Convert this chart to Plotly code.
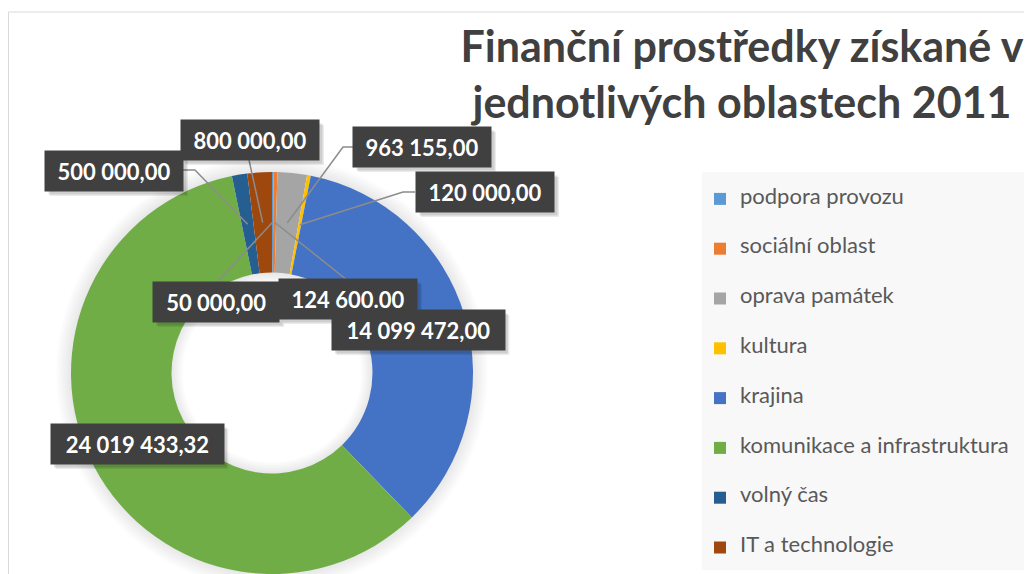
import numpy as np
import plotly.graph_objects as go

# ---------------- data ----------------
categories = ["podpora provozu", "sociální oblast", "oprava památek", "kultura",
              "krajina", "komunikace a infrastruktura", "volný čas", "IT a technologie"]
values = [50000.00, 124600.00, 963155.00, 120000.00,
          14099472.00, 24019433.32, 500000.00, 800000.00]
value_labels = ["50 000,00", "124 600.00", "963 155,00", "120 000,00",
                "14 099 472,00", "24 019 433,32", "500 000,00", "800 000,00"]
colors = ["#5B9BD5", "#ED7D31", "#A5A5A5", "#FFC000",
          "#4472C4", "#70AD47", "#255E91", "#9E480E"]
title_lines = ["Finanční prostředky získané v", "jednotlivých oblastech 2011"]

# ---------------- layout geometry (screen pixels) ----------------
W, H = 1032, 574
OFF = 8            # page body margin that offsets the figure in the window
CX, CY, R = 272, 373, 201
HOLE = 0.5
# label box centres and leader anchor points (screen pixels)
label_pos = [(216, 302), (348, 299), (422, 147), (485, 192),
             (418, 330), (137, 444), (114, 171), (250, 140)]
leader_from = [[(217, 282)], [(347, 280)], [(353, 147), (343, 147)], [(415, 192), (403, 192)],
               None, None, [(183, 170), (195, 170)], [(249, 160)]]


def px(x):
    return (x - OFF) / W


def py(y):
    return 1 - (y - OFF) / H


fig = go.Figure()
fig.add_trace(go.Pie(
    labels=[f"<br><span style='font-size:22px'>{c}</span><br> " for c in categories],
    values=values,
    sort=False,
    direction="clockwise",
    rotation=0,
    hole=HOLE,
    marker=dict(colors=colors, line=dict(width=0)),
    textinfo="none",
    hoverinfo="label+value",
    domain=dict(x=[px(CX - R), px(CX + R)], y=[py(CY + R), py(CY - R)]),
))

shapes = []
# chart frame
shapes.append(dict(type="rect", xref="paper", yref="paper", x0=px(8.5), x1=px(1100), y0=py(12), y1=py(650),
                   line=dict(color="#d9d9d9", width=1), fillcolor="rgba(0,0,0,0)", layer="below"))
# legend background
shapes.append(dict(type="rect", xref="paper", yref="paper", x0=px(702), x1=px(1100), y0=py(172), y1=py(570),
                   line=dict(width=0), fillcolor="#f8f8f8", layer="below"))


def ring(r_out, r_in, n=120):
    t = np.linspace(0, 2 * np.pi, n)
    xo = CX + r_out * np.sin(t)
    yo = CY - r_out * np.cos(t)
    xi = CX + r_in * np.sin(t[::-1])
    yi = CY - r_in * np.cos(t[::-1])
    pts = [f"{px(a):.5f},{py(b):.5f}" for a, b in zip(xo, yo)]
    pts_i = [f"{px(a):.5f},{py(b):.5f}" for a, b in zip(xi, yi)]
    return "M" + " L".join(pts) + " Z M" + " L".join(pts_i) + " Z"


# soft shadow around the ring and inside the hole
for k in range(8):
    shapes.append(dict(type="path", xref="paper", yref="paper", path=ring(R + 1 + 2 * k, R - 2),
                       fillcolor="rgba(0,0,0,0.012)", line=dict(width=0), layer="below"))
    shapes.append(dict(type="path", xref="paper", yref="paper", path=ring(R * HOLE + 2, R * HOLE - 1 - 1.5 * k),
                       fillcolor="rgba(0,0,0,0.012)", line=dict(width=0), layer="below"))

# leader lines to mid-ring of each slice
total = float(np.sum(values))
cum = np.cumsum(values) - np.array(values) / 2
r_mid = R * (1 + HOLE) / 2
for i, pts in enumerate(leader_from):
    if pts is None:
        continue
    th = 2 * np.pi * cum[i] / total
    tx, ty = CX + r_mid * np.sin(th), CY - r_mid * np.cos(th)
    allp = pts + [(tx, ty)]
    path = "M" + " L".join(f"{px(a):.5f},{py(b):.5f}" for a, b in allp)
    shapes.append(dict(type="path", xref="paper", yref="paper", path=path,
                       line=dict(color="#8c8c8c", width=1.5), layer="above"))

PAD = 6
BOX_H = 40
box_ann = []
for i, txt in enumerate(value_labels):
    x, y = label_pos[i]
    box_w = 11.6 * len(txt) + 22
    # drop shadow behind the label box
    for s, a in ((5, 0.08), (3.5, 0.12)):
        shapes.append(dict(type="rect", xref="paper", yref="paper",
                           x0=px(x - box_w / 2 + s), x1=px(x + box_w / 2 + s),
                           y0=py(y + BOX_H / 2 + s), y1=py(y - BOX_H / 2 + s),
                           fillcolor=f"rgba(0,0,0,{a})", line=dict(width=0), layer="above"))
    box_ann.append(dict(x=px(x), y=py(y), xref="paper", yref="paper", text=txt, showarrow=False,
                        xanchor="center", yanchor="middle", width=box_w - 2 * PAD, height=BOX_H - 2 * PAD,
                        borderpad=PAD, bgcolor="#404040",
                        font=dict(family="Lato", size=22, color="#ffffff", weight="bold")))

fig.update_layout(
    width=W, height=H,
    margin=dict(l=0, r=0, t=0, b=0, autoexpand=False),
    paper_bgcolor="#ffffff",
    plot_bgcolor="#ffffff",
    title=dict(text="<br>".join(title_lines), x=px(742), xanchor="center", xref="paper",
               y=py(62), yanchor="top", yref="paper",
               font=dict(family="Lato", size=43, color="#404040", weight="bold")),
    showlegend=True,
    legend=dict(x=px(700), y=py(169), xanchor="left", yanchor="top",
                bgcolor="rgba(0,0,0,0)", font=dict(family="Lato", size=12, color="#595959"),
                traceorder="normal"),
    shapes=shapes,
    annotations=box_ann,
)

fig.write_html("out.html")
